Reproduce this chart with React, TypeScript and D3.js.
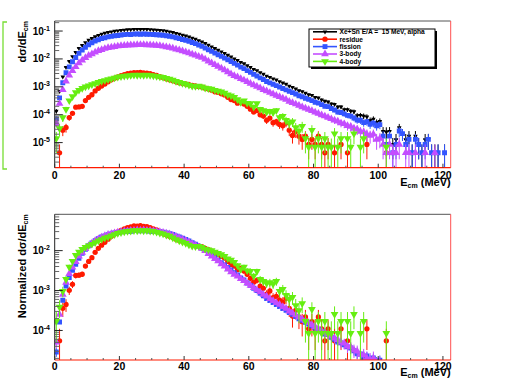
import React from "react";
import * as d3 from "d3";

// ---------- data (1 MeV bins, centres at i + 0.5) ----------
const binCenters: number[] = d3.range(0, 121).map((i) => i + 0.5);
const xTicks = [0, 20, 40, 60, 80, 100, 120];
const topDecades = [-5, -4, -3, -2, -1];
const bottomDecades = [-4, -3, -2];

const residue: (number | null)[] = [
  null, 4.3e-6, 2.8e-5, 3.5e-5, 7.9e-5, 1.12e-4, 1.86e-4, 1.9e-4, 2.0e-4, 3.2e-4,
  4.2e-4, 5.2e-4, 7.1e-4, 8.9e-4, 1.07e-3, 1.26e-3, 1.51e-3, 1.78e-3, 2.04e-3, 2.29e-3,
  2.51e-3, 2.75e-3, 2.95e-3, 3.09e-3, 3.24e-3, 3.2e-3, 3.3e-3, 3.16e-3, 3.1e-3, 2.95e-3,
  2.75e-3, 2.57e-3, 2.34e-3, 2.14e-3, 1.95e-3, 1.78e-3, 1.66e-3, 1.51e-3, 1.41e-3, 1.32e-3,
  1.26e-3, 1.2e-3, 1.12e-3, 1.07e-3, 1.02e-3, 9.8e-4, 8.9e-4, 8.3e-4, 7.6e-4, 6.6e-4,
  6.3e-4, 5.6e-4, 5.1e-4, 4.2e-4, 3.5e-4, 3.2e-4, 2.6e-4, 2.8e-4, 2.4e-4, 2.0e-4,
  1.58e-4, 1.26e-4, 1.41e-4, 1.0e-4, 8.9e-5, 6.3e-5, 7.6e-5, 5.2e-5, 5.6e-5, 4.5e-5,
  4.0e-5, 5.0e-5, 2.8e-5, 1.8e-5, 2.5e-5, 1.7e-5, 1.3e-5, 1.7e-5, 8.6e-6, 1.3e-5,
  8.6e-6, 1.7e-5, 8.6e-6, 4.3e-6, 8.6e-6, null, 4.3e-6, null, 8.6e-6, null,
  4.3e-6, null, null, null, null, null, 8.6e-6, null, null, null,
  null, null, 4.3e-6,
];

const fission: (number | null)[] = [
  7.1e-5, 4.0e-4, 1.4e-3, 3.2e-3, 5.2e-3, 7.9e-3, 1.12e-2, 1.58e-2, 2.09e-2, 2.63e-2,
  3.24e-2, 3.8e-2, 4.37e-2, 4.9e-2, 5.37e-2, 5.75e-2, 6.17e-2, 6.46e-2, 6.76e-2, 6.92e-2,
  7.24e-2, 7.41e-2, 7.59e-2, 7.5e-2, 7.76e-2, 7.8e-2, 7.7e-2, 7.8e-2, 7.7e-2, 7.6e-2,
  7.5e-2, 7.4e-2, 7.2e-2, 7.1e-2, 6.8e-2, 6.5e-2, 6.2e-2, 5.75e-2, 5.4e-2, 5.0e-2,
  4.7e-2, 4.3e-2, 3.9e-2, 3.55e-2, 3.16e-2, 2.82e-2, 2.45e-2, 2.14e-2, 1.86e-2, 1.62e-2,
  1.41e-2, 1.23e-2, 1.07e-2, 9.3e-3, 8.1e-3, 6.9e-3, 6.0e-3, 5.1e-3, 4.5e-3, 3.8e-3,
  3.3e-3, 2.8e-3, 2.45e-3, 2.1e-3, 1.82e-3, 1.55e-3, 1.38e-3, 1.23e-3, 1.1e-3, 9.8e-4,
  8.7e-4, 7.8e-4, 6.9e-4, 6.2e-4, 5.5e-4, 4.8e-4, 4.4e-4, 3.9e-4, 3.55e-4, 3.2e-4,
  2.8e-4, 2.6e-4, 2.3e-4, 2.0e-4, 1.95e-4, 1.66e-4, 1.48e-4, 1.25e-4, 1.2e-4, 1.07e-4,
  9.5e-5, 8.9e-5, 7.6e-5, 6.4e-5, 6.3e-5, 5.2e-5, 5.6e-5, 4.5e-5, 5.0e-5, 4.0e-5,
  4.4e-5, 1.7e-5, 8.6e-6, 1.7e-5, 4.3e-6, 8.6e-6, 2.6e-5, 2.1e-5, 8.6e-6, 1.3e-5,
  4.3e-6, 1.3e-5, 8.6e-6, 4.3e-6, 8.6e-6, 1.3e-5, 4.3e-6, null, 4.3e-6, null,
  4.3e-6,
];

const threeBody: (number | null)[] = [
  5.0e-5, 2.5e-4, 7.9e-4, 1.58e-3, 2.6e-3, 3.8e-3, 5.2e-3, 7.1e-3, 8.9e-3, 1.1e-2,
  1.32e-2, 1.51e-2, 1.74e-2, 1.95e-2, 2.14e-2, 2.34e-2, 2.51e-2, 2.63e-2, 2.75e-2, 2.88e-2,
  2.95e-2, 3.02e-2, 3.09e-2, 3.16e-2, 3.15e-2, 3.24e-2, 3.22e-2, 3.24e-2, 3.16e-2, 3.15e-2,
  3.09e-2, 3.02e-2, 2.95e-2, 2.82e-2, 2.69e-2, 2.57e-2, 2.4e-2, 2.24e-2, 2.09e-2, 1.91e-2,
  1.78e-2, 1.62e-2, 1.48e-2, 1.35e-2, 1.23e-2, 1.12e-2, 9.8e-3, 8.3e-3, 7.2e-3, 6.2e-3,
  5.4e-3, 4.6e-3, 4.0e-3, 3.4e-3, 2.9e-3, 2.5e-3, 2.24e-3, 1.95e-3, 1.74e-3, 1.51e-3,
  1.32e-3, 1.17e-3, 1.02e-3, 9.1e-4, 7.9e-4, 7.1e-4, 6.2e-4, 5.5e-4, 4.9e-4, 4.4e-4,
  3.9e-4, 3.5e-4, 3.0e-4, 2.7e-4, 2.4e-4, 2.14e-4, 1.9e-4, 1.7e-4, 1.55e-4, 1.38e-4,
  1.23e-4, 1.1e-4, 9.8e-5, 8.9e-5, 7.9e-5, 7.1e-5, 6.3e-5, 5.8e-5, 5.0e-5, 4.7e-5,
  4.0e-5, 3.8e-5, 3.2e-5, 3.0e-5, 2.5e-5, 2.4e-5, 2.0e-5, 1.8e-5, 2.0e-5, 1.3e-5,
  1.4e-5, 8.6e-6, 4.3e-6, 8.6e-6, 4.3e-6, 4.3e-6, 8.6e-6, null, 4.3e-6, 4.3e-6,
  null, 4.3e-6, null, null, 4.3e-6, null, null, 4.3e-6,
];

const fourBody: (number | null)[] = [
  1.4e-5, 3.2e-5, 7.9e-5, 1.58e-4, 3.2e-4, 4.5e-4, 6.3e-4, 7.6e-4, 8.9e-4, 1.0e-3,
  1.1e-3, 1.2e-3, 1.32e-3, 1.45e-3, 1.58e-3, 1.7e-3, 1.82e-3, 1.95e-3, 2.09e-3, 2.24e-3,
  2.34e-3, 2.45e-3, 2.51e-3, 2.57e-3, 2.63e-3, 2.6e-3, 2.65e-3, 2.6e-3, 2.63e-3, 2.57e-3,
  2.51e-3, 2.4e-3, 2.29e-3, 2.19e-3, 2.04e-3, 1.91e-3, 1.74e-3, 1.58e-3, 1.45e-3, 1.35e-3,
  1.26e-3, 1.15e-3, 1.07e-3, 1.05e-3, 1.07e-3, 1.0e-3, 9.1e-4, 8.7e-4, 8.3e-4, 7.6e-4,
  7.1e-4, 6.6e-4, 6.0e-4, 5.2e-4, 4.8e-4, 4.2e-4, 3.5e-4, 2.8e-4, 3.2e-4, 2.6e-4,
  2.5e-4, 1.9e-4, 2.5e-4, 1.58e-4, 1.41e-4, 1.26e-4, 1.32e-4, 1.2e-4, 1.41e-4, 7.9e-5,
  8.9e-5, 6.3e-5, 5.0e-5, 5.6e-5, 3.5e-5, 2.6e-5, 3.9e-5, 1.4e-5, 7e-6, 2.8e-5,
  7e-6, 1.4e-5, 7e-6, 1.4e-5, 7e-6, 7e-6, 2.1e-5, 7e-6, 1.4e-5, null,
  1.4e-5, 7e-6, 2.1e-5, null, 7e-6, 1.4e-5, null, null, null, null,
  null, null, 7e-6,
];

// statistical weight of one simulated event in each sample (sets the error bars)
const eventWeight = { residue: 4.3e-6, fission: 4.3e-6, threeBody: 4.3e-6, fourBody: 7e-6 };

const legendLabels = ["Xe+Sn E/A =  15 MeV, alpha", "residue", "fission", "3-body", "4-body"];

// ---------- helpers ----------
type Marker = "circle" | "square" | "triUp" | "triDown" | "small";
interface Series {
  label: string;
  color: string;
  marker: Marker;
  values: (number | null)[];
  errors: (number | null)[];
}

const at = (a: (number | null)[], i: number) => (i < a.length ? a[i] : null);

function poissonErrors(vals: (number | null)[], w: number) {
  return binCenters.map((_, i) => {
    const v = at(vals, i);
    return v == null ? null : Math.sqrt(v * w);
  });
}

const parts = [
  { vals: residue, w: eventWeight.residue },
  { vals: fission, w: eventWeight.fission },
  { vals: threeBody, w: eventWeight.threeBody },
  { vals: fourBody, w: eventWeight.fourBody },
];
// total = sum of the four channels
const totalValues = binCenters.map((_, i) => {
  const vs = parts.map((p) => at(p.vals, i));
  if (vs.every((v) => v == null)) return null;
  return d3.sum(vs.map((v) => v ?? 0));
});
const totalErrors = binCenters.map((_, i) => {
  if (totalValues[i] == null) return null;
  return Math.sqrt(d3.sum(parts.map((p) => (at(p.vals, i) ?? 0) * p.w)));
});

const COLORS = { total: "#000000", residue: "#ff1a00", fission: "#3355ff", threeBody: "#c44dff", fourBody: "#66ee11" };

const topSeries: Series[] = [
  { label: legendLabels[0], color: COLORS.total, marker: "small", values: totalValues, errors: totalErrors },
  { label: legendLabels[1], color: COLORS.residue, marker: "circle", values: binCenters.map((_, i) => at(residue, i)), errors: poissonErrors(residue, eventWeight.residue) },
  { label: legendLabels[2], color: COLORS.fission, marker: "square", values: binCenters.map((_, i) => at(fission, i)), errors: poissonErrors(fission, eventWeight.fission) },
  { label: legendLabels[3], color: COLORS.threeBody, marker: "triUp", values: binCenters.map((_, i) => at(threeBody, i)), errors: poissonErrors(threeBody, eventWeight.threeBody) },
  { label: legendLabels[4], color: COLORS.fourBody, marker: "triDown", values: binCenters.map((_, i) => at(fourBody, i)), errors: poissonErrors(fourBody, eventWeight.fourBody) },
];

function normalized(s: Series): Series {
  const sum = d3.sum(s.values.map((v) => v ?? 0));
  return {
    ...s,
    values: s.values.map((v) => (v == null ? null : v / sum)),
    errors: s.errors.map((e) => (e == null ? null : e / sum)),
  };
}
const bottomSeries: Series[] = topSeries.slice(1).map(normalized);

function markerD(m: Marker): string {
  switch (m) {
    case "circle":
      return d3.symbol(d3.symbolCircle, 22)() as string;
    case "square":
      return d3.symbol(d3.symbolSquare, 24)() as string;
    case "triUp":
    case "triDown":
      return d3.symbol(d3.symbolTriangle, 26)() as string;
    default:
      return d3.symbol(d3.symbolTriangle, 9)() as string;
  }
}
const markerRot = (m: Marker) => (m === "triDown" || m === "small" ? " rotate(180)" : "");

const FONT = "'Liberation Sans', Arial, Helvetica, sans-serif";
const X_DOMAIN: [number, number] = [0, 122.4];
const LEFT = 54.7;
const RIGHT = 450.7;

interface PanelProps {
  id: string;
  top: number;
  bottom: number;
  logMin: number;
  logMax: number;
  decades: number[];
  series: Series[];
  yTitle: string;
  tickBaseline: number;
  titleBaseline: number;
}

function Panel({ id, top, bottom, logMin, logMax, decades, series, yTitle, tickBaseline, titleBaseline }: PanelProps) {
  const x = d3.scaleLinear().domain(X_DOMAIN).range([LEFT, RIGHT]);
  const y = d3.scaleLog().domain([Math.pow(10, logMin), Math.pow(10, logMax)]).range([bottom, top]);
  const minor: number[] = [];
  for (let k = Math.floor(logMin); k <= Math.ceil(logMax); k++) {
    for (let m = 2; m <= 9; m++) {
      const lv = Math.log10(m) + k;
      if (lv > logMin && lv < logMax) minor.push(Math.pow(10, lv));
    }
  }
  const xMinor = d3.range(0, 121, 5).filter((v) => v % 20 !== 0);

  return (
    <g>
      <defs>
        <clipPath id={id}>
          <rect x={LEFT} y={top} width={RIGHT - LEFT} height={bottom - top} />
        </clipPath>
      </defs>
      <g clipPath={`url(#${id})`}>
        {series.map((s, si) => (
          <g key={si}>
            {s.values.map((v, i) => {
              if (v == null) return null;
              const e = s.errors[i] ?? 0;
              const cx = x(binCenters[i]);
              const cy = y(v);
              const lo = v - e;
              const yb = lo > 0 ? y(lo) : bottom + 2;
              return (
                <g key={i} stroke={s.color} strokeWidth={1}>
                  <line x1={cx} x2={cx} y1={y(v + e)} y2={yb} />
                  <line x1={x(binCenters[i] - 0.5)} x2={x(binCenters[i] + 0.5)} y1={cy} y2={cy} />
                </g>
              );
            })}
            {s.values.map((v, i) =>
              v == null ? null : (
                <path
                  key={"m" + i}
                  d={markerD(s.marker)}
                  transform={`translate(${x(binCenters[i])},${y(v)})${markerRot(s.marker)}`}
                  fill={s.color}
                />
              )
            )}
          </g>
        ))}
      </g>
      {/* frame */}
      <line x1={LEFT} x2={RIGHT} y1={top} y2={top} stroke="#555" strokeWidth={1} />
      <line x1={RIGHT} x2={RIGHT} y1={top} y2={bottom} stroke="#ff5050" strokeWidth={1} />
      <line x1={LEFT} x2={RIGHT} y1={bottom} y2={bottom} stroke="#ff1a00" strokeWidth={1.2} />
      <line x1={LEFT} x2={LEFT} y1={top} y2={bottom} stroke="#222" strokeWidth={1} />
      {/* x ticks */}
      {xTicks.map((t) => (
        <line key={"xt" + t} x1={x(t)} x2={x(t)} y1={bottom} y2={bottom - 4} stroke="#333" />
      ))}
      {xMinor.map((t) => (
        <line key={"xm" + t} x1={x(t)} x2={x(t)} y1={bottom} y2={bottom - 2} stroke="#555" />
      ))}
      {xTicks.map((t) => (
        <text key={"xl" + t} x={x(t)} y={tickBaseline} textAnchor="middle" fontFamily={FONT} fontWeight="bold" fontSize={10.5}>
          {t}
        </text>
      ))}
      {/* y ticks */}
      {decades.map((k) => (
        <line key={"yt" + k} x1={LEFT} x2={LEFT + 8} y1={y(Math.pow(10, k))} y2={y(Math.pow(10, k))} stroke="#222" />
      ))}
      {minor.map((v, i) => (
        <line key={"ym" + i} x1={LEFT} x2={LEFT + 4.5} y1={y(v)} y2={y(v)} stroke="#666" />
      ))}
      {decades.map((k) => (
        <text key={"yl" + k} x={50} y={y(Math.pow(10, k)) + 3.5} textAnchor="end" fontFamily={FONT} fontWeight="bold" fontSize={10}>
          10
          <tspan dy={-4} fontSize={7}>
            {String(k)}
          </tspan>
        </text>
      ))}
      {/* titles */}
      <text x={RIGHT} y={titleBaseline} textAnchor="end" fontFamily={FONT} fontWeight="bold" fontSize={11}>
        E
        <tspan fontSize={7} dy={2}>
          cm
        </tspan>
        <tspan dy={-2} fontSize={11} style={{ whiteSpace: "pre" }}>
          {" (MeV)"}
        </tspan>
      </text>
      <text
        transform={`translate(25.5, ${top}) rotate(-90)`}
        textAnchor="end"
        fontFamily={FONT}
        fontWeight="bold"
        fontSize={11}
      >
        {yTitle}
        <tspan fontSize={7} dy={2}>
          cm
        </tspan>
      </text>
    </g>
  );
}

function Legend() {
  const bx = 309, by = 29, bw = 126, bh = 38;
  return (
    <g>
      <rect x={bx + 2} y={by + 2} width={bw} height={bh} fill="#000" />
      <rect x={bx} y={by} width={bw} height={bh} fill="#fff" stroke="#000" strokeWidth={1} />
      {topSeries.map((s, i) => {
        const yy = 31.8 + i * 7.4;
        return (
          <g key={i}>
            <line x1={313} x2={337} y1={yy} y2={yy} stroke={s.color} strokeWidth={1.6} />
            <path d={markerD(s.marker)} transform={`translate(325,${yy})${markerRot(s.marker)}`} fill={s.color} />
            <text x={339.5} y={yy + 2.3} fontFamily={FONT} fontWeight="bold" fontSize={6.6} style={{ whiteSpace: "pre" }}>
              {s.label}
            </text>
          </g>
        );
      })}
    </g>
  );
}

export default function App() {
  return (
    <svg width={506} height={384} style={{ position: "absolute", left: 0, top: 0, background: "#fff" }}>
      <rect x={0} y={0} width={506} height={384} fill="#fff" />
      <path d="M7,22 H3 V169 H7" fill="none" stroke="#77dd33" strokeWidth={1.3} />
      <Panel
        id="clipTop"
        top={21}
        bottom={167.7}
        logMin={-5.9}
        logMax={-0.64}
        decades={topDecades}
        series={topSeries}
        yTitle="dσ/dE"
        tickBaseline={178.8}
        titleBaseline={185.5}
      />
      <Legend />
      <Panel
        id="clipBottom"
        top={214.3}
        bottom={360}
        logMin={-4.74}
        logMax={-1.09}
        decades={bottomDecades}
        series={bottomSeries}
        yTitle="Normalized dσ/dE"
        tickBaseline={369.8}
        titleBaseline={375.5}
      />
    </svg>
  );
}
